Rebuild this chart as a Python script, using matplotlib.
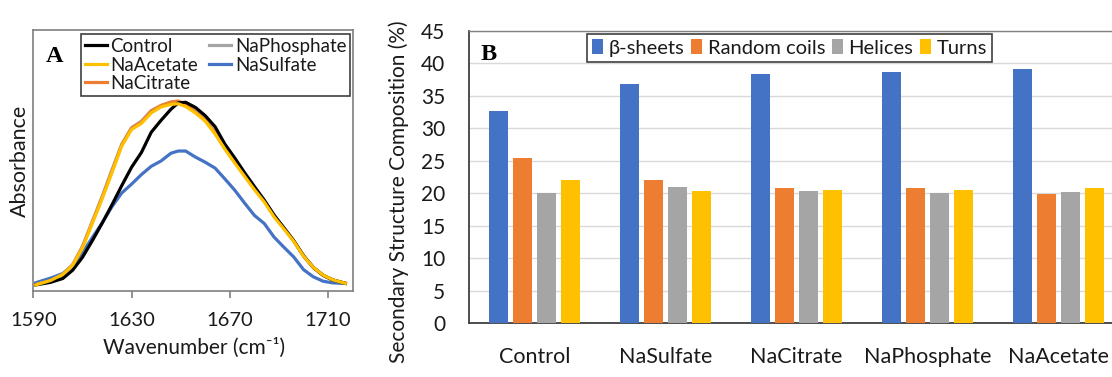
import numpy as np
import matplotlib
matplotlib.use("Agg")
import matplotlib.pyplot as plt
from matplotlib.patches import Patch

plt.rcParams['font.family'] = ['Lato', 'DejaVu Sans']

# ---- FTIR amide I spectra (panel A) ----
wavenumber = [1591, 1597, 1602, 1606, 1610, 1614, 1618, 1622, 1626, 1630, 1634,
              1638, 1642, 1646, 1649, 1652, 1656, 1660, 1664, 1668, 1672, 1676,
              1680, 1684, 1688, 1692, 1696, 1700, 1704, 1708, 1712, 1717]

control = [0.0, 0.014, 0.035, 0.08, 0.15, 0.24, 0.335, 0.435, 0.54, 0.64, 0.72,
           0.83, 0.895, 0.955, 0.99, 0.993, 0.965, 0.92, 0.86, 0.765, 0.69, 0.61,
           0.535, 0.461, 0.38, 0.31, 0.24, 0.158, 0.095, 0.052, 0.026, 0.009]
na_phosphate = [0.003, 0.022, 0.055, 0.11, 0.21, 0.345, 0.48, 0.625, 0.765, 0.855, 0.89,
                0.948, 0.975, 0.99, 0.993, 0.978, 0.945, 0.898, 0.828, 0.745, 0.672, 0.603,
                0.525, 0.458, 0.375, 0.31, 0.24, 0.158, 0.094, 0.052, 0.027, 0.009]
na_citrate = [0.002, 0.023, 0.056, 0.108, 0.205, 0.34, 0.475, 0.618, 0.762, 0.852, 0.886,
              0.945, 0.976, 0.995, 1.0, 0.982, 0.94, 0.895, 0.826, 0.742, 0.668, 0.602,
              0.523, 0.457, 0.376, 0.31, 0.24, 0.158, 0.094, 0.052, 0.027, 0.009]
na_acetate = [0.0, 0.024, 0.057, 0.107, 0.2, 0.335, 0.467, 0.61, 0.755, 0.845, 0.878,
              0.935, 0.968, 0.982, 0.985, 0.97, 0.935, 0.89, 0.82, 0.738, 0.663, 0.59,
              0.518, 0.451, 0.37, 0.304, 0.237, 0.156, 0.095, 0.053, 0.027, 0.009]
na_sulfate = [0.012, 0.037, 0.062, 0.107, 0.175, 0.257, 0.337, 0.425, 0.5, 0.548, 0.6,
              0.645, 0.674, 0.716, 0.728, 0.728, 0.695, 0.667, 0.635, 0.576, 0.515, 0.445,
              0.378, 0.334, 0.26, 0.205, 0.152, 0.083, 0.044, 0.02, 0.011, 0.008]

wn_ticks = [1590, 1630, 1670, 1710]

# ---- secondary structure composition (panel B) ----
salts = ['Control', 'NaSulfate', 'NaCitrate', 'NaPhosphate', 'NaAcetate']
structures = ['β-sheets', 'Random coils', 'Helices', 'Turns']
beta_sheets = [32.7, 36.8, 38.3, 38.7, 39.1]
random_coils = [25.4, 22.0, 20.8, 20.8, 19.95]
helices = [20.0, 20.9, 20.4, 20.0, 20.15]
turns = [22.0, 20.4, 20.5, 20.5, 20.8]
pct_ticks = list(range(0, 50, 5))

C_BLUE, C_ORANGE, C_GRAY, C_YELLOW = '#4472C4', '#ED7D31', '#A5A5A5', '#FFC000'
TXT = '#1a1a1a'

W, H = 1112, 377
fig = plt.figure(figsize=(W / 100, H / 100), dpi=100)

# ================= panel A =================
axA = fig.add_axes([33.3 / W, 1 - 291 / H, 319.4 / W, 261 / H])
lw = 2.3
axA.plot(wavenumber, na_sulfate, color=C_BLUE, lw=lw, label='NaSulfate', zorder=2)
axA.plot(wavenumber, na_phosphate, color=C_GRAY, lw=lw, label='NaPhosphate', zorder=3)
axA.plot(wavenumber, na_citrate, color=C_ORANGE, lw=lw, label='NaCitrate', zorder=3)
axA.plot(wavenumber, control, color='black', lw=lw, label='Control', zorder=4)
axA.plot(wavenumber, na_acetate, color=C_YELLOW, lw=lw, label='NaAcetate', zorder=5)
axA.set_xlim(1590, 1720)
axA.set_ylim(-0.033, 1.386)
axA.set_xticks(wn_ticks)
axA.set_yticks([])
axA.tick_params(axis='x', direction='out', length=5, width=1.2, color='#7F7F7F',
                labelsize=14.5, pad=10, labelcolor=TXT)
for s in axA.spines.values():
    s.set_color('#7F7F7F')
    s.set_linewidth(1.2)
axA.set_ylabel('Absorbance', fontsize=15.5, color=TXT, va='center')
axA.yaxis.set_label_coords(-0.043, 0.5)
axA.set_xlabel('Wavenumber (cm⁻¹)', fontsize=15, color=TXT, va='center')
axA.xaxis.set_label_coords(0.503, -0.218)

hA, lA = axA.get_legend_handles_labels()
order = ['Control', 'NaAcetate', 'NaCitrate', 'NaPhosphate', 'NaSulfate']
hmap = dict(zip(lA, hA))
legA = axA.legend([hmap[k] for k in order], order, ncol=2, loc='upper right',
                  bbox_to_anchor=(0.9916, 0.9835), fontsize=13.5, frameon=True,
                  fancybox=False, framealpha=1, edgecolor='#404040',
                  handlelength=1.15, handletextpad=0.2, columnspacing=0.6,
                  labelspacing=0.08, borderpad=0.2, borderaxespad=0)
legA.get_frame().set_linewidth(1.2)
for t in legA.get_texts():
    t.set_color(TXT)

fig.text(55 / W, 1 - 56.7 / H, 'A', family='Liberation Serif', weight='bold',
         fontsize=17.5, ha='center', va='center')

# ================= panel B =================
group_px = 131.0
axB = fig.add_axes([469 / W, 1 - 323.3 / H, 5 * group_px / W, 292.6 / H])
x = np.arange(len(salts))
step, width = 0.183, 0.141
series = [beta_sheets, random_coils, helices, turns]
colors = [C_BLUE, C_ORANGE, C_GRAY, C_YELLOW]
for j, (vals, c) in enumerate(zip(series, colors)):
    axB.bar(x + (j - 1.5) * step, vals, width=width, color=c, zorder=3)
axB.set_xlim(-0.5, 4.5)
axB.set_ylim(0, 45)
axB.set_yticks(pct_ticks)
axB.set_xticks(x)
axB.set_xticklabels(salts)
axB.grid(axis='y', color='#D9D9D9', lw=1.0, zorder=0)
axB.set_axisbelow(True)
axB.tick_params(axis='y', length=0, labelsize=15, pad=17, labelcolor=TXT)
axB.tick_params(axis='x', length=0, labelsize=15.5, pad=17, labelcolor=TXT)
axB.spines['right'].set_visible(False)
for k in ('left', 'bottom'):
    axB.spines[k].set_color('#404040')
    axB.spines[k].set_linewidth(1.3)
axB.spines['top'].set_color('#808080')
axB.spines['top'].set_linewidth(1.0)
axB.set_ylabel('Secondary Structure Composition (%)', fontsize=15, color=TXT,
               va='center')
axB.yaxis.set_label_coords(-0.107, 0.45)

handlesB = [Patch(facecolor=c, edgecolor='none') for c in colors]
legB = axB.legend(handlesB, structures, ncol=4, loc='upper left',
                  bbox_to_anchor=(0.180, 0.989), fontsize=14.5, frameon=True,
                  fancybox=False, framealpha=1, edgecolor='#404040',
                  handlelength=0.55, handleheight=0.8, handletextpad=0.3,
                  columnspacing=0.3, borderpad=0.25, borderaxespad=0)
legB.get_frame().set_linewidth(1.2)
for t in legB.get_texts():
    t.set_color(TXT)

fig.text(488.5 / W, 1 - 55 / H, 'B', family='Liberation Serif', weight='bold',
         fontsize=17.5, ha='center', va='center')

fig.savefig('out.png', dpi=100)
